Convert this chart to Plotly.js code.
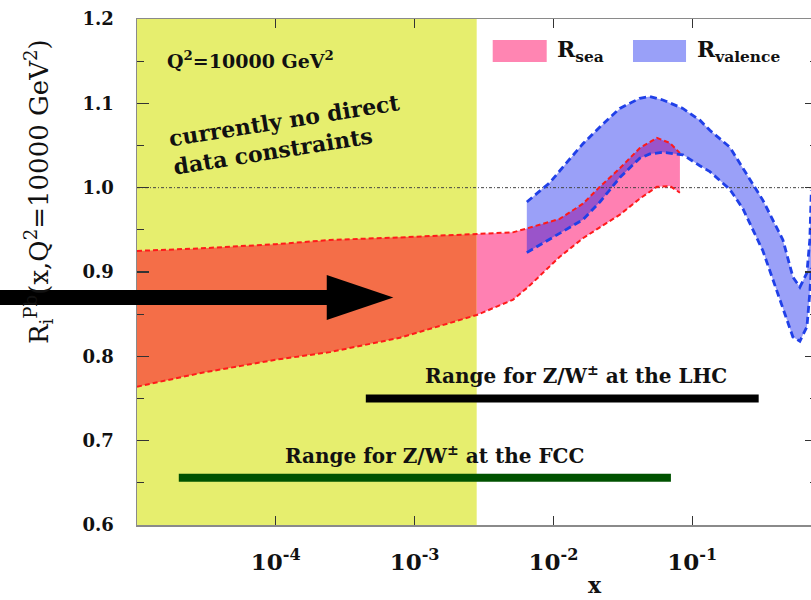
<!DOCTYPE html>
<html><head><meta charset="utf-8">
<script src="https://cdn.plot.ly/plotly-3.0.1.min.js"></script>
<style>html,body{margin:0;padding:0;overflow:hidden;background:#fff}#wrap{width:811px;height:600px;overflow:hidden}#plot{width:820px;height:600px}</style>
</head><body><div id="wrap"><div id="plot"></div></div>
<script>
// x-limit of the "currently no direct data constraints" region
const noDataLimit = 2.8e-3;
// R_sea band
const seaX    = [1e-5, 2.83e-5, 1e-4, 2.45e-4, 7.82e-4, 2.8e-3, 5.1e-3, 6.55e-3, 1.11e-2, 1.63e-2, 2.16e-2, 3.01e-2, 4.19e-2, 5.56e-2, 6.9e-2, 8.15e-2];
const seaHigh = [0.925, 0.928, 0.933, 0.938, 0.941, 0.945, 0.947, 0.952, 0.963, 0.981, 1.001, 1.023, 1.047, 1.059, 1.053, 1.041];
const seaLow  = [0.764, 0.780, 0.796, 0.805, 0.822, 0.849, 0.867, 0.882, 0.918, 0.940, 0.953, 0.968, 0.987, 1.001, 1.002, 0.994];
// R_valence band
const valX    = [6.43e-3, 9.42e-3, 1.25e-2, 1.63e-2, 2.16e-2, 3.01e-2, 4.19e-2, 4.95e-2, 6.14e-2, 8.55e-2, 0.1135, 0.134, 0.1866, 0.2317, 0.323, 0.45, 0.531, 0.596, 0.67, 0.703, 0.721];
const valHigh = [0.983, 1.006, 1.030, 1.052, 1.072, 1.094, 1.106, 1.108, 1.104, 1.094, 1.080, 1.068, 1.048, 1.023, 0.985, 0.938, 0.894, 0.882, 0.899, 0.938, 0.997];
const valLow  = [0.923, 0.939, 0.950, 0.962, 0.983, 1.012, 1.035, 1.040, 1.042, 1.039, 1.026, 1.019, 0.998, 0.975, 0.925, 0.857, 0.823, 0.818, 0.835, 0.875, 0.905];
// kinematic ranges
const lhcRange = [4.45e-4, 0.301]; const lhcLevel = 0.75;
const fccRange = [2.0e-5, 0.0702]; const fccLevel = 0.656;
// axes
const xRange = [1e-5, 0.792];
const yRange = [0.6, 1.2];
const xTickVals = [1e-4, 1e-3, 1e-2, 1e-1];
const xTickText = ['10<sup>-4</sup>', '10<sup>-3</sup>', '10<sup>-2</sup>', '10<sup>-1</sup>'];
const unity = 1.0;

function band(xs, lo, hi, keep) {
  const idx = xs.map((v, i) => i).filter(i => keep(xs[i]));
  const x = idx.map(i => xs[i]).concat(idx.slice().reverse().map(i => xs[i]));
  const y = idx.map(i => lo[i]).concat(idx.slice().reverse().map(i => hi[i]));
  return {x, y};
}
const seaLeft = band(seaX, seaLow, seaHigh, v => v <= noDataLimit);
const seaRight = band(seaX, seaLow, seaHigh, v => v >= noDataLimit);
const valAll = band(valX, valLow, valHigh, v => true);

const redDash = {color: '#FF1A1A', width: 2, dash: '5px,3px'};
const blueDash = {color: '#2040E8', width: 2.8, dash: '7px,4px'};

const traces = [
  {x: [xRange[0], noDataLimit, noDataLimit, xRange[0]], y: [yRange[0], yRange[0], yRange[1], yRange[1]],
   fill: 'toself', fillcolor: '#E6EE6E', mode: 'lines', line: {width: 0}, hoverinfo: 'skip'},
  {x: seaLeft.x, y: seaLeft.y, fill: 'toself', fillcolor: '#F46E48', mode: 'lines', line: {width: 0}},
  {x: seaRight.x, y: seaRight.y, fill: 'toself', fillcolor: '#FF80B2', mode: 'lines', line: {width: 0}},
  {x: valAll.x, y: valAll.y, fill: 'toself', fillcolor: 'rgba(3,18,238,0.4)', mode: 'lines', line: {width: 0}},
  {x: [xRange[0], 1], y: [unity, unity], mode: 'lines', line: {color: '#444', width: 1, dash: '3px,2px,1px,2px'}},
  {x: seaX, y: seaHigh, mode: 'lines', line: redDash},
  {x: seaX, y: seaLow, mode: 'lines', line: redDash},
  {x: valX, y: valHigh, mode: 'lines', line: blueDash},
  {x: valX, y: valLow, mode: 'lines', line: blueDash},
  {x: lhcRange, y: [lhcLevel, lhcLevel], mode: 'lines', line: {color: '#000', width: 8}},
  {x: fccRange, y: [fccLevel, fccLevel], mode: 'lines', line: {color: '#005200', width: 8}}
];

const bold = {family: 'DejaVu Serif', size: 19, color: '#111', weight: 'bold'};
const layout = {
  width: 820, height: 600,
  margin: {l: 137, r: 3, t: 19, b: 75},
  paper_bgcolor: '#fff', plot_bgcolor: '#fff',
  showlegend: false,
  xaxis: {type: 'log', range: [Math.log10(xRange[0]), Math.log10(xRange[1])],
    tickvals: xTickVals, ticktext: xTickText, ticks: 'inside', ticklen: 9, tickcolor: '#333', tickwidth: 1.2,
    showline: true, linecolor: '#8a8a8a', linewidth: 1.5, mirror: 'ticks', showgrid: false, zeroline: false,
    tickfont: {family: 'DejaVu Serif', size: 23, color: '#111', weight: 'bold'}, ticklabelstandoff: 16},
  yaxis: {range: yRange, dtick: 0.1, tickformat: '.1f', ticks: 'inside', ticklen: 12, tickcolor: '#333', tickwidth: 1.2,
    minor: {dtick: 0.05, ticks: 'inside', ticklen: 7, tickcolor: '#333'},
    showline: true, linecolor: '#8a8a8a', linewidth: 1.5, mirror: 'ticks', showgrid: false, zeroline: false,
    tickfont: {family: 'DejaVu Serif', size: 18, color: '#111', weight: 'bold'}, ticklabelstandoff: 18},
  shapes: [
    {type: 'rect', xref: 'paper', yref: 'paper', x0: 0.5231, x1: 0.6025, y0: 0.915, y1: 0.9585, fillcolor: '#FF85B2', line: {width: 0}},
    {type: 'rect', xref: 'paper', yref: 'paper', x0: 0.7294, x1: 0.8074, y0: 0.915, y1: 0.9585, fillcolor: '#99A0F8', line: {width: 0}},
    {type: 'rect', xref: 'paper', yref: 'y', x0: -0.21, x1: 0.285, y0: 0.8609, y1: 0.8787, fillcolor: '#000', line: {width: 0}},
    {type: 'path', xref: 'paper', yref: 'y', path: 'M0.279,0.8965 L0.377,0.8698 L0.279,0.8431 Z', fillcolor: '#000', line: {width: 0}}
  ],
  annotations: [
    {xref: 'paper', yref: 'paper', x: 0.0412, y: 0.919, xanchor: 'left', yanchor: 'middle', showarrow: false,
     text: 'Q<sup>2</sup>=10000 GeV<sup>2</sup>', font: bold},
    {xref: 'paper', yref: 'paper', x: 0.2206, y: 0.771, xanchor: 'center', yanchor: 'middle', showarrow: false, textangle: -9, align: 'left',
     text: 'currently no direct<br>data constraints', font: Object.assign({}, bold, {size: 22})},
    {xref: 'paper', yref: 'paper', x: 0.6456, y: 0.2964, xanchor: 'center', yanchor: 'middle', showarrow: false,
     text: 'Range for Z/W<sup>±</sup> at the LHC', font: Object.assign({}, bold, {size: 20})},
    {xref: 'paper', yref: 'paper', x: 0.438, y: 0.138, xanchor: 'center', yanchor: 'middle', showarrow: false,
     text: 'Range for Z/W<sup>±</sup> at the FCC', font: Object.assign({}, bold, {size: 20})},
    {xref: 'paper', yref: 'paper', x: 0.615, y: 0.937, xanchor: 'left', yanchor: 'middle', showarrow: false,
     text: 'R<sub>sea</sub>', font: Object.assign({}, bold, {size: 22})},
    {xref: 'paper', yref: 'paper', x: 0.8206, y: 0.937, xanchor: 'left', yanchor: 'middle', showarrow: false,
     text: 'R<sub>valence</sub>', font: Object.assign({}, bold, {size: 22})},
    {xref: 'paper', yref: 'paper', x: -0.1456, y: 0.660, xanchor: 'center', yanchor: 'middle', showarrow: false, textangle: -90,
     text: 'R<sub>i</sub><sup>Pb</sup>(x,Q<sup>2</sup>=10000 GeV<sup>2</sup>)', font: {family: 'DejaVu Serif', size: 26, color: '#111'}},
    {xref: 'paper', yref: 'paper', x: 0.6735, y: -0.118, xanchor: 'center', yanchor: 'middle', showarrow: false,
     text: 'x', font: Object.assign({}, bold, {size: 22})}
  ]
};
Plotly.newPlot('plot', traces, layout, {staticPlot: true, displayModeBar: false});
</script></body></html>
